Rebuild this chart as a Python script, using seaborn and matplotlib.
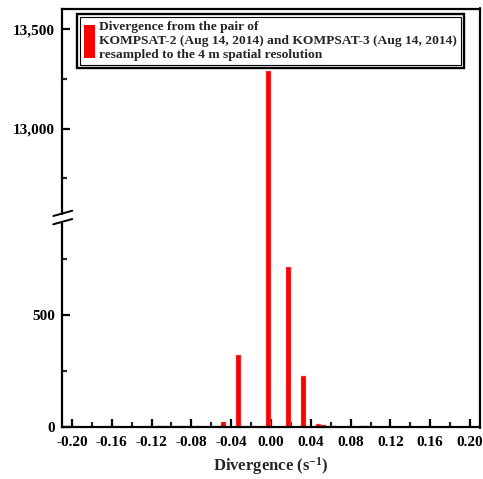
import numpy as np
import pandas as pd
import matplotlib
matplotlib.use("Agg")
import matplotlib.pyplot as plt
import seaborn as sns
from matplotlib.patches import Patch, Rectangle
from matplotlib.lines import Line2D
from matplotlib.ticker import MultipleLocator, FuncFormatter

# ---- data (histogram bins, left edge and count) ----
bin_left = [-0.115, -0.090, -0.075, -0.055, -0.050, -0.035, -0.005,
            0.015, 0.030, 0.045, 0.050, 0.060, 0.090]
counts = [2, 2, 5, 3, 20, 322, 13290, 713, 227, 12, 7, 3, 2]
bin_width = 0.005
x_ticks = [-0.20, -0.16, -0.12, -0.08, -0.04, 0.00, 0.04, 0.08, 0.12, 0.16, 0.20]
legend_label = ("Divergence from the pair of\n"
                "KOMPSAT-2 (Aug 14, 2014) and KOMPSAT-3 (Aug 14, 2014)\n"
                "resampled to the 4 m spatial resolution")
x_label = r"Divergence (s$^{-1}$)"

df = pd.DataFrame({"center": np.array(bin_left) + bin_width / 2, "count": counts})

sns.set_style("white")
plt.rcParams["font.family"] = ["Liberation Serif", "DejaVu Serif"]
plt.rcParams["font.weight"] = "bold"
plt.rcParams["mathtext.fontset"] = "custom"
plt.rcParams["mathtext.rm"] = "Liberation Serif:bold"
plt.rcParams["mathtext.it"] = "Liberation Serif:bold"
plt.rcParams["mathtext.bf"] = "Liberation Serif:bold"
plt.rcParams["mathtext.default"] = "rm"

W, H = 483, 479
fig = plt.figure(figsize=(W / 100, H / 100), dpi=100)

x0, x1 = 62, 480
y_top, y_brk, y_bot = 9, 218, 426.7
ax_top = fig.add_axes([x0 / W, 1 - y_brk / H, (x1 - x0) / W, (y_brk - y_top) / H])
ax_bot = fig.add_axes([x0 / W, 1 - y_bot / H, (x1 - x0) / W, (y_bot - y_brk) / H])

for ax in (ax_top, ax_bot):
    sns.histplot(data=df, x="center", weights="count", binwidth=bin_width,
                 binrange=(-0.12, 0.10), ax=ax,
                 color="#ff0000", alpha=1, edgecolor="#c8a0a0", linewidth=0.3)
    ax.set_xlim(-0.21, 0.21)
    ax.set_ylabel("")
    for s in ax.spines.values():
        s.set_linewidth(1.6)
        s.set_color("black")
    ax.spines["right"].set_visible(False)
    ax.tick_params(axis="both", which="major", direction="in", length=6, width=1.6,
                   labelsize=11, colors="black")
    ax.tick_params(axis="both", which="minor", direction="in", length=3.5, width=1.6)
    ax.tick_params(axis="y", left=True, right=False, which="both", pad=5)
    ax.tick_params(axis="x", bottom=True, top=False, which="both", pad=7)
    ax.set_xticks(x_ticks)
    ax.xaxis.set_minor_locator(MultipleLocator(0.02))
    ax.yaxis.set_major_locator(MultipleLocator(500))
    ax.yaxis.set_minor_locator(MultipleLocator(250))
    ax.yaxis.set_major_formatter(FuncFormatter(lambda v, p: f"{int(v):,}"))
    for lab in ax.get_xticklabels() + ax.get_yticklabels():
        lab.set_fontweight("bold")

ax_bot.set_ylim(0, 934)
ax_top.set_ylim(12551, 13602)
ax_top.spines["bottom"].set_visible(False)
ax_bot.spines["top"].set_visible(False)
ax_top.tick_params(axis="x", which="both", bottom=False, labelbottom=False)
ax_bot.set_xticklabels([f"{v:.2f}" for v in x_ticks], fontweight="bold")
ax_bot.set_xlabel(x_label, fontsize=12, fontweight="bold", labelpad=4)
ax_top.set_xlabel("")

# continuous right spine
fig.add_artist(Line2D([x1 / W, x1 / W], [1 - y_bot / H - 0.8 / H, 1 - y_top / H + 0.8 / H],
                      transform=fig.transFigure, color="black", lw=1.6))

# axis break mark on the left spine
fig.add_artist(Rectangle((x0 / W - 2 / W, 1 - 222.5 / H), 4 / W, 8 / H,
                         transform=fig.transFigure, facecolor="white", edgecolor="none", zorder=5))
for dy in (0, 8.3):
    fig.add_artist(Line2D([53.3 / W, 72.3 / W], [1 - (216 + dy) / H, 1 - (210.7 + dy) / H],
                          transform=fig.transFigure, color="black", lw=1.4, zorder=6))

# legend
handle = Patch(facecolor="#ff0000", edgecolor="none")
leg = ax_top.legend([handle], [legend_label], loc="upper left",
                    bbox_to_anchor=(77 / W, 1 - 14 / H), bbox_transform=fig.transFigure,
                    borderaxespad=0, frameon=True, fancybox=False, framealpha=1,
                    edgecolor="black", handlelength=0.8, handleheight=3.3,
                    handletextpad=0.32, borderpad=0.52,
                    prop={"family": "Liberation Serif", "weight": "bold", "size": 9.7})
leg.get_frame().set_linewidth(1.7)
fig.canvas.draw()
bb = leg.get_frame().get_window_extent().transformed(fig.transFigure.inverted())
ix, iy = 2.6 / W, 2.6 / H
fig.add_artist(Rectangle((bb.x0 + ix, bb.y0 + iy), bb.width - 2 * ix, bb.height - 2 * iy,
                         transform=fig.transFigure, facecolor="none", edgecolor="black",
                         lw=0.8, zorder=10))

fig.savefig("out.png", dpi=100)
